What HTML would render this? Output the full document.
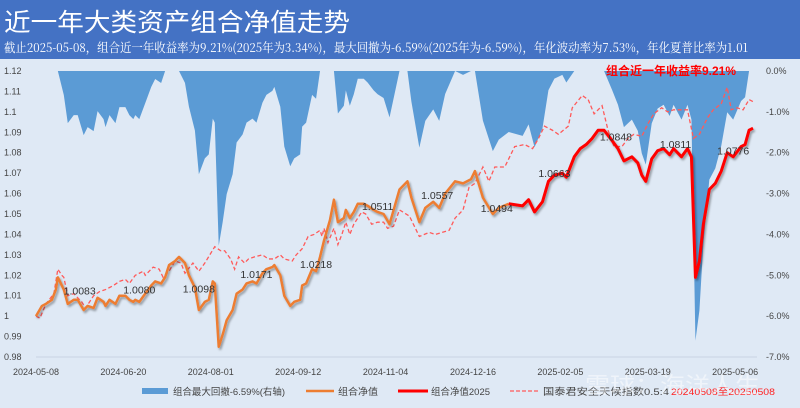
<!DOCTYPE html>
<html><head><meta charset="utf-8">
<style>
body{margin:0;width:800px;height:408px;overflow:hidden;font-family:"Liberation Sans","Noto Sans CJK SC",sans-serif;background:#dfe9f5}
#hdr{position:absolute;left:0;top:0;width:800px;height:59px;background:#4472c4}
#title{position:absolute;left:4px;top:3px;color:#fff;font-size:25px;font-family:"Noto Sans CJK SC",sans-serif;white-space:nowrap;transform-origin:0 0;display:inline-block}
#sub{position:absolute;left:4px;top:38px;color:#fff;font-size:12.5px;font-family:"Noto Serif CJK SC","Noto Sans CJK SC",serif;white-space:nowrap;transform-origin:0 0;display:inline-block}
svg{position:absolute;left:0;top:59px}
</style></head><body>
<div id="hdr">
<div id="title">近一年大类资产组合净值走势</div>
<div id="sub">截止2025-05-08，组合近一年收益率为9.21%(2025年为3.34%)，最大回撤为-6.59%(2025年为-6.59%)，年化波动率为7.53%，年化夏普比率为1.01</div>
</div>
<svg id="chart" width="800" height="349"></svg>
<script>
const navDays=[0,3,5,8,10,11,14,16,19,21,24,26,29,31,34,35,37,40,42,45,47,49,50,52,55,58,60,63,65,67,70,72,75,77,80,82,85,87,89,90,92,94,96,99,101,104,106,109,111,114,116,119,120,123,125,128,130,133,134,136,139,141,143,145,148,150,152,155,156,158,160,162,165,167,170,172,175,178,183,187,189,193,196,200,203,206,211,215,219,221,225,230,233,238,245,248,251,255,258,261,265,267,271,274,277,280,283,286,290,293,296,300,303,305,307,310,313,316,319,321,325,328,330,332,334,336,339,342,345,348,351,355,357,359,361];
const navValues=[1.000,1.005,1.006,1.008,1.013,1.019,1.013,1.006,1.008,1.008,1.003,1.005,1.004,1.009,1.007,1.005,1.008,1.006,1.010,1.010,1.008,1.007,1.008,1.007,1.011,1.015,1.017,1.016,1.019,1.025,1.027,1.029,1.026,1.020,1.014,1.003,1.007,1.008,1.017,1.016,0.985,0.991,0.998,1.003,1.011,1.013,1.016,1.017,1.016,1.021,1.023,1.024,1.025,1.020,1.010,1.005,1.007,1.008,1.015,1.016,1.023,1.022,1.029,1.037,1.047,1.057,1.046,1.048,1.052,1.048,1.051,1.055,1.055,1.054,1.052,1.051,1.050,1.045,1.062,1.066,1.058,1.046,1.053,1.056,1.053,1.060,1.066,1.065,1.067,1.071,1.058,1.050,1.053,1.055,1.054,1.057,1.051,1.056,1.066,1.069,1.070,1.068,1.078,1.082,1.084,1.087,1.091,1.091,1.086,1.082,1.076,1.078,1.075,1.069,1.066,1.077,1.081,1.082,1.079,1.082,1.078,1.082,1.078,1.019,1.027,1.045,1.062,1.065,1.071,1.080,1.078,1.083,1.084,1.091,1.092];
const idxDays=[0,2,5,9,11,13,14,16,19,23,25,29,32,35,39,42,45,47,50,54,55,59,62,64,67,70,73,75,79,82,85,90,93,95,98,100,102,105,107,110,114,117,120,123,125,129,131,134,137,140,143,144,145,147,150,152,154,156,158,160,164,166,169,172,175,177,180,183,188,193,198,201,208,211,215,218,221,225,228,231,236,241,246,250,253,256,260,263,268,270,275,278,281,285,288,291,295,298,301,305,308,311,315,318,321,325,328,331,334,338,341,345,348,350,353,356,359,361];
const idxValues=[1.000,0.999,1.006,1.011,1.023,1.020,1.019,1.010,1.011,1.007,1.004,1.010,1.012,1.013,1.015,1.017,1.018,1.016,1.020,1.022,1.020,1.024,1.023,1.019,1.022,1.027,1.026,1.021,1.026,1.022,1.026,1.034,1.032,1.032,1.028,1.023,1.029,1.026,1.028,1.029,1.030,1.028,1.028,1.030,1.028,1.027,1.030,1.033,1.039,1.040,1.042,1.039,1.043,1.036,1.043,1.035,1.040,1.046,1.040,1.045,1.051,1.050,1.045,1.046,1.046,1.043,1.044,1.052,1.049,1.039,1.041,1.040,1.042,1.048,1.052,1.063,1.065,1.073,1.066,1.073,1.073,1.083,1.084,1.082,1.087,1.093,1.091,1.089,1.093,1.102,1.108,1.106,1.099,1.103,1.091,1.083,1.083,1.087,1.089,1.088,1.094,1.099,1.102,1.100,1.101,1.101,1.101,1.087,1.089,1.097,1.101,1.104,1.112,1.101,1.102,1.101,1.106,1.105];
const start2025=238;
const leftTicks=[1.12,1.11,1.1,1.09,1.08,1.07,1.06,1.05,1.04,1.03,1.02,1.01,1,0.99,0.98];
const rightTicks=[0,-1,-2,-3,-4,-5,-6,-7];
const xTickDays=[0,44,88,132,176,220,264,308,352];
const xTickLabels=["2024-05-08","2024-06-20","2024-08-01","2024-09-12","2024-11-04","2024-12-16","2025-02-05","2025-03-19","2025-05-06"];
const labelDays=[22,52,82,111,141,172,202,232,261,292,322,351];
const labelValues=["1.0083","1.0080","1.0098","1.0171","1.0218","1.0511","1.0557","1.0494","1.0663","1.0848","1.0811","1.0776"];
const labelLevels=[1.0126,1.0130,1.0136,1.0206,1.0255,1.0538,1.0593,1.0530,1.0700,1.0880,1.0843,1.0810];

function fit(id,w){const e=document.getElementById(id);const s=w/e.getBoundingClientRect().width;e.style.transform='scaleX('+s+')';}
fit('title',346);fit('sub',744);

const svg=document.getElementById('chart');const NS='http://www.w3.org/2000/svg';
const OY=59;
const X=d=>36+d*(721/363);
const YL=v=>71-OY+(1.12-v)/0.14*286;
const YR=p=>71-OY+(-p)/7*286;
function mk(t,a,p){const e=document.createElementNS(NS,t);for(const k in a)e.setAttribute(k,a[k]);(p||svg).appendChild(e);return e;}
const defs=mk('defs',{});
const f=mk('filter',{id:'sh',x:'-5%',y:'-5%',width:'110%',height:'120%'},defs);
mk('feDropShadow',{dx:'1.5',dy:'2',stdDeviation:'1',"flood-color":'#000',"flood-opacity":'0.35'},f);

let peak=0,dd=[];
navValues.forEach(v=>{peak=Math.max(peak,v);dd.push((v/peak-1)*100);});
let dp='M'+X(navDays[0])+','+YR(0);
navDays.forEach((d,i)=>dp+=' L'+X(d)+','+YR(dd[i]));
dp+=' L'+X(navDays[navDays.length-1])+','+YR(0)+' Z';
const area=mk('path',{d:dp,fill:'#5b9bd5'});



const lg=mk('g',{"font-size":'9',fill:'#444'});

leftTicks.forEach(v=>{const t=mk('text',{x:4,y:YL(v)+3},lg);t.textContent=String(v);});
const rg=mk('g',{"font-size":'9',fill:'#444'});

rightTicks.forEach(p=>{const t=mk('text',{x:766,y:YR(p)+3},rg);t.textContent=p.toFixed(1)+'%';});
const xg=mk('g',{"font-size":'9',fill:'#444',"text-anchor":'middle'});

xTickDays.forEach((d,i)=>{const t=mk('text',{x:X(d),y:316},xg);t.textContent=xTickLabels[i];});
mk('line',{x1:36,x2:757,y1:YL(0.98),y2:YL(0.98),stroke:'#c8d4e3'});

const ip=mk('path',{d:idxDays.map((d,i)=>(i?'L':'M')+X(d)+','+YL(idxValues[i])).join(' '),fill:'none',stroke:'#ff5a5a',"stroke-width":'1.3',"stroke-dasharray":'4,2.5'});


let o='',r='';
navDays.forEach((d,i)=>{const pt=X(d)+','+YL(navValues[i]);
 if(d<=start2025)o+=(o?' L':'M')+pt;
 if(d>=start2025)r+=(r?' L':'M')+pt;});
const op=mk('path',{d:o,fill:'none',stroke:'#ed7d31',"stroke-width":'2.5',"stroke-linejoin":'round',filter:'url(#sh)'});

const rp=mk('path',{d:r,fill:'none',stroke:'#ff0000',"stroke-width":'3',"stroke-linejoin":'round',filter:'url(#sh)'});


const lb=mk('g',{"font-size":'10.5',fill:'#333',"text-anchor":'middle'});

labelDays.forEach((d,i)=>{const t=mk('text',{x:X(d),y:YL(labelLevels[i])+4},lb);t.textContent=labelValues[i];});

const an=mk('text',{x:606,y:16,"font-size":'12',"font-weight":'bold',fill:'#ff0000',textLength:'130',lengthAdjust:'spacingAndGlyphs'});
an.textContent='组合近一年收益率9.21%';


const L=mk('g',{"font-size":'9.5',fill:'#444'});

mk('rect',{x:142,y:329,width:26,height:6,fill:'#5b9bd5'},L);
let t=mk('text',{x:173,y:336,textLength:'112',lengthAdjust:'spacingAndGlyphs'},L);t.textContent='组合最大回撤-6.59%(右轴)';
mk('line',{x1:306,x2:334,y1:332,y2:332,stroke:'#ed7d31',"stroke-width":'2.5'},L);
t=mk('text',{x:338,y:336,textLength:'40',lengthAdjust:'spacingAndGlyphs'},L);t.textContent='组合净值';
mk('line',{x1:398,x2:428,y1:332,y2:332,stroke:'#ff0000',"stroke-width":'3'},L);
t=mk('text',{x:431,y:336,textLength:'59',lengthAdjust:'spacingAndGlyphs'},L);t.textContent='组合净值2025';
mk('line',{x1:510,x2:538,y1:332,y2:332,stroke:'#ff5a5a',"stroke-width":'1.3',"stroke-dasharray":'4,2'},L);
t=mk('text',{x:543,y:336,textLength:'126',lengthAdjust:'spacingAndGlyphs'},L);t.textContent='国泰君安全天候指数0.5:4';
t=mk('text',{x:671,y:336,fill:'#ff2222',textLength:'104',lengthAdjust:'spacingAndGlyphs'},L);t.textContent='20240508至20250508';
const wm=mk('text',{x:585,y:334,"font-size":'22',fill:'#ffffff',"fill-opacity":'0.5',textLength:'175',lengthAdjust:'spacingAndGlyphs'});
wm.textContent='雪球：海洋人生';

</script>
</body></html>
